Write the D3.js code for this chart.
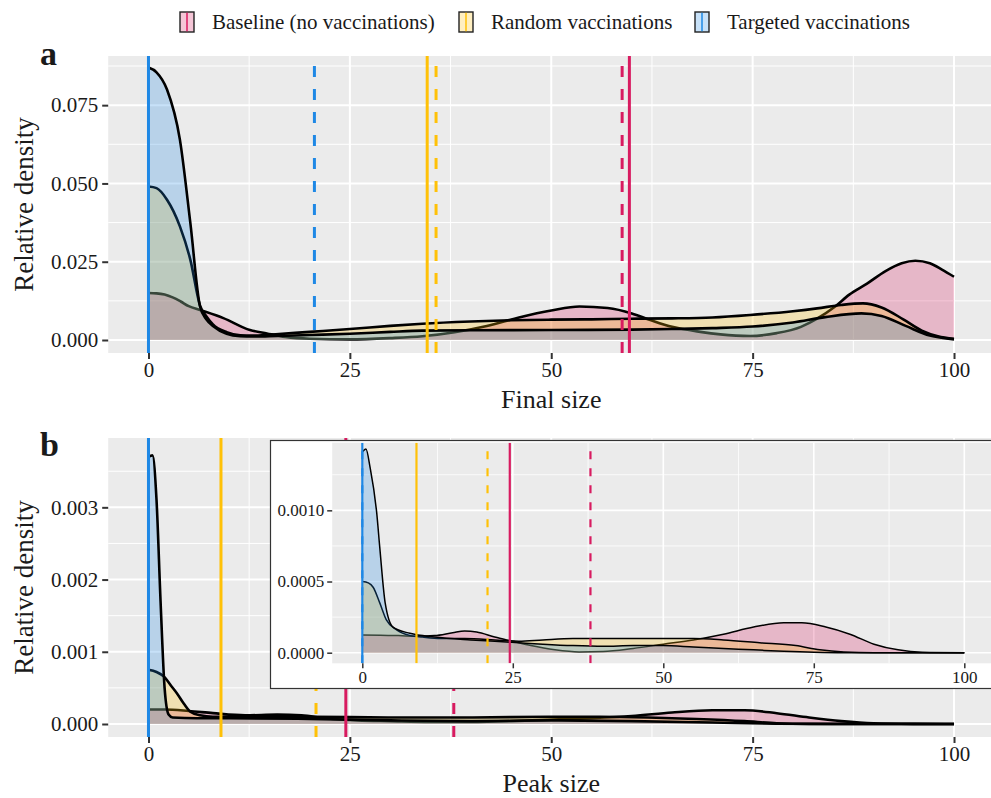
<!DOCTYPE html>
<html>
<head>
<meta charset="utf-8">
<script src="https://cdn.jsdelivr.net/npm/d3@7"></script>
<style>
  body { margin: 0; background: #fff; }
  text { font-family: "Liberation Serif", "Times New Roman", serif; fill: #1a1a1a; }
</style>
</head>
<body>
<svg id="chart" width="991" height="798"></svg>
<script>
// ---- data ----
const groups = ['Baseline (no vaccinations)', 'Random vaccinations', 'Targeted vaccinations'];
const groupColors = ['#D81B60', '#FFC107', '#1E88E5'];

const xTicks = [0, 25, 50, 75, 100];
const xMinor = [12.5, 37.5, 62.5, 87.5];

const finalTicksY = [0, 0.025, 0.05, 0.075];
const finalMinorY = [0.0125, 0.0375, 0.0625, 0.0875];
const peakTicksY = [0, 0.001, 0.002, 0.003];
const peakMinorY = [0.0005, 0.0015, 0.0025, 0.0035];
const insetTicksY = [0, 0.0005, 0.001];
const insetMinorY = [0.00025, 0.00075, 0.00125];

// panel a: final size densities [x, density]
const finalBaseline = [[0,0.015],[1,0.0149],[2,0.0145],[3,0.0136],[4,0.0123],[5,0.0108],[6.4,0.0096],[9.3,0.007],[12.6,0.0032],[14.7,0.0021],[17,0.001],[20,0.0004],[25,0.0002],[30,0.0006],[34,0.0012],[38,0.0025],[42,0.0045],[46,0.0072],[50,0.0094],[53.5,0.0107],[57,0.0102],[60,0.0085],[62.3,0.0064],[65,0.0042],[68.5,0.0026],[71,0.0018],[74.7,0.0013],[78,0.0022],[81,0.0042],[83,0.0068],[85.2,0.0106],[87,0.0145],[89.2,0.018],[91.5,0.022],[93.5,0.0245],[95.2,0.0253],[97,0.0245],[98.5,0.0225],[100,0.0202]];
const finalRandom = [[0,0.049],[1,0.0485],[2.3,0.0448],[3.9,0.0363],[5.2,0.0256],[6.4,0.011],[7.2,0.0075],[8,0.005],[9.7,0.0025],[11.4,0.0015],[13,0.0014],[15,0.0017],[20,0.0026],[25,0.0035],[30,0.0045],[34,0.0052],[40,0.0059],[45,0.0063],[50,0.0065],[55,0.0066],[60,0.0068],[65,0.0069],[70,0.0072],[74.7,0.008],[80,0.0092],[83,0.0101],[86,0.0112],[88.7,0.0117],[91,0.0104],[93.7,0.0066],[96,0.003],[98,0.0012],[100,0.0004]];
const finalTargeted = [[0,0.087],[1,0.0855],[2.3,0.08],[3.9,0.064],[5.2,0.0373],[6.4,0.0107],[7.2,0.0065],[8,0.0045],[9.7,0.002],[11.4,0.0012],[13,0.0011],[15,0.0012],[20,0.0016],[25,0.002],[30,0.0026],[34,0.003],[40,0.0031],[50,0.0032],[60,0.0033],[65,0.0035],[70,0.0038],[75,0.0043],[80,0.0056],[84,0.0073],[88.5,0.0085],[91,0.0077],[94,0.0045],[97,0.0014],[100,0.0002]];
const finalSolid = [59.7, 34.6, 0];
const finalDashed = [58.8, 35.7, 20.6];

// panel b: peak size densities
const peakBaseline = [[0,0.0002],[2,0.0002],[5,0.00018],[8,0.00015],[12,0.00012],[16,0.00013],[19,0.00012],[22,0.00008],[26,0.00005],[30,0.00004],[35,0.00003],[40,0.00003],[45,0.00004],[50,0.00006],[55,0.00008],[60,0.00011],[65,0.00016],[70,0.00019],[74,0.00019],[78,0.00015],[82,0.00009],[86,0.00004],[90,0.00001],[95,0.000002],[100,0]];
const peakRandom = [[0,0.00075],[1,0.00072],[1.9,0.00066],[2.8,0.00053],[3.5,0.00043],[4.4,0.00028],[5.2,0.00017],[6.4,0.00012],[8,0.0001],[12,0.0001],[20,0.0001],[30,0.00009],[40,0.00009],[50,0.0001],[56,0.0001],[62,0.00009],[68,0.00007],[74,0.00004],[78,0.00001],[82,0.000002],[100,0]];
const peakTargeted = [[0,0.0037],[0.5,0.00372],[1,0.0031],[1.5,0.0017],[2,0.0005],[2.5,0.00013],[3,0.00009],[6,0.00008],[10,0.00008],[20,0.00007],[30,0.00005],[40,0.00004],[50,0.00005],[60,0.00004],[70,0.00002],[78,0.000004],[85,0],[100,0]];
const peakSolid = [24.5, 9.0, 0];
const peakDashed = [37.9, 20.8, 0];

// panel b inset: zoomed peak size densities
const insetBaseline = [[0,0.000125],[3,0.000122],[6,0.00012],[9,0.000115],[12,0.00012],[15,0.00014],[17,0.000152],[19,0.000145],[22,0.00011],[25,0.00008],[28,0.00005],[32,0.00002],[36,0.000005],[40,0.000008],[45,0.00003],[50,0.00006],[55,0.00009],[60,0.00013],[65,0.00018],[70,0.00021],[73,0.00021],[77,0.00018],[81,0.00013],[85,0.00006],[89,0.00002],[93,0.000003],[100,0]];
const insetRandom = [[0,0.0005],[1,0.00049],[1.8,0.00046],[2.9,0.00035],[4,0.00023],[5.7,0.00016],[8,0.00012],[10,0.00011],[13,0.0001],[17,0.0001],[22,0.00009],[26,0.00008],[30,0.00009],[35,0.0001],[40,0.0001],[47,0.0001],[55,0.0001],[60,0.00009],[66,0.00007],[72,0.00005],[76,0.00002],[80,0.000005],[85,0],[100,0]];
const insetTargeted = [[0,0.00141],[0.6,0.00143],[1.3,0.0013],[2.4,0.00098],[2.9,0.00074],[3.8,0.00035],[5.1,0.00018],[7.9,0.000136],[12,0.00011],[18,0.00009],[22,0.00008],[26,0.00007],[30,0.00006],[35,0.00005],[40,0.000045],[45,0.00005],[50,0.00005],[55,0.00004],[60,0.00003],[65,0.00002],[70,0.00001],[75,0.000003],[80,0],[100,0]];

const svg = d3.select('#chart');
const defs = svg.append('defs');

function drawPanel(o) {
  const g = svg.append('g');
  const [xl, xr] = o.x.range();
  const [yb, yt] = o.y.range();

  g.append('rect')
    .attr('x', xl).attr('y', yt)
    .attr('width', xr - xl).attr('height', yb - yt)
    .attr('fill', '#EBEBEB');

  // grid lines
  g.selectAll('.gy-minor').data(o.yMinor).join('line')
    .attr('x1', xl).attr('x2', xr)
    .attr('y1', d => o.y(d)).attr('y2', d => o.y(d))
    .attr('stroke', '#fff').attr('stroke-width', o.gridW / 2);
  g.selectAll('.gx-minor').data(xMinor).join('line')
    .attr('y1', yb).attr('y2', yt)
    .attr('x1', d => o.x(d)).attr('x2', d => o.x(d))
    .attr('stroke', '#fff').attr('stroke-width', o.gridW / 2);
  g.selectAll('.gy-major').data(o.yTicks).join('line')
    .attr('x1', xl).attr('x2', xr)
    .attr('y1', d => o.y(d)).attr('y2', d => o.y(d))
    .attr('stroke', '#fff').attr('stroke-width', o.gridW);
  g.selectAll('.gx-major').data(xTicks).join('line')
    .attr('y1', yb).attr('y2', yt)
    .attr('x1', d => o.x(d)).attr('x2', d => o.x(d))
    .attr('stroke', '#fff').attr('stroke-width', o.gridW);

  // clip for the data layer
  defs.append('clipPath').attr('id', o.id)
    .append('rect')
    .attr('x', xl).attr('y', yt)
    .attr('width', xr - xl).attr('height', yb - yt);
  const data = g.append('g').attr('clip-path', `url(#${o.id})`);

  const area = d3.area()
    .x(d => o.x(d[0])).y0(o.y(0)).y1(d => o.y(d[1]))
    .curve(d3.curveMonotoneX);
  const line = d3.line()
    .x(d => o.x(d[0])).y(d => o.y(d[1]))
    .curve(d3.curveMonotoneX);

  // densities are drawn group by group, fill then outline
  o.series.forEach((s, i) => {
    data.append('path').attr('d', area(s))
      .attr('fill', groupColors[i]).attr('fill-opacity', 0.25);
    data.append('path').attr('d', line(s))
      .attr('fill', 'none').attr('stroke', '#000')
      .attr('stroke-width', o.outlineW).attr('stroke-linejoin', 'round');
  });

  // reference lines, drawn from the bottom upwards
  o.solid.forEach((v, i) => {
    data.append('line')
      .attr('x1', o.x(v)).attr('x2', o.x(v)).attr('y1', yb).attr('y2', yt)
      .attr('stroke', groupColors[i]).attr('stroke-width', o.vlineW);
  });
  o.dashed.forEach((v, i) => {
    data.append('line')
      .attr('x1', o.x(v)).attr('x2', o.x(v)).attr('y1', yb).attr('y2', yt)
      .attr('stroke', groupColors[i]).attr('stroke-width', o.vlineW)
      .attr('stroke-dasharray', o.dash);
  });

  // axes
  const yAxis = g.append('g')
    .attr('transform', `translate(${xl},0)`)
    .call(d3.axisLeft(o.y).tickValues(o.yTicks).tickFormat(o.yFormat)
      .tickSize(o.tickLen).tickPadding(o.tickPad));
  const xAxis = g.append('g')
    .attr('transform', `translate(0,${yb})`)
    .call(d3.axisBottom(o.x).tickValues(xTicks).tickFormat(d3.format('d'))
      .tickSize(o.tickLen).tickPadding(o.xTickPad));
  [yAxis, xAxis].forEach(ax => {
    ax.select('.domain').remove();
    ax.selectAll('.tick line').attr('stroke', '#333').attr('stroke-width', o.tickW);
    ax.selectAll('.tick text')
      .attr('fill', '#1a1a1a')
      .style('font-size', o.tickFont + 'px')
      .style('font-family', '"Liberation Serif", serif');
  });
  return g;
}

// ---- legend ----
const legendKeys = [180, 459, 695];
const legend = svg.append('g');
groups.forEach((name, i) => {
  const kx = legendKeys[i];
  legend.append('rect')
    .attr('x', kx).attr('y', 12).attr('width', 14).attr('height', 20)
    .attr('fill', groupColors[i]).attr('fill-opacity', 0.25)
    .attr('stroke', '#222').attr('stroke-width', 1.4);
  legend.append('line')
    .attr('x1', kx + 7).attr('x2', kx + 7).attr('y1', 12.7).attr('y2', 31.3)
    .attr('stroke', groupColors[i]).attr('stroke-width', 1.5);
  legend.append('text')
    .attr('x', kx + 32).attr('y', 29)
    .style('font-size', '21px')
    .text(name);
});

// ---- panel a ----
const xa = d3.scaleLinear().domain([-5, 105]).range([108.2, 994.3]);
const ya = d3.scaleLinear().domain([-0.00415, 0.0907]).range([353, 56]);
drawPanel({
  id: 'clip-a', x: xa, y: ya,
  yTicks: finalTicksY, yMinor: finalMinorY, yFormat: d3.format('.3f'),
  series: [finalBaseline, finalRandom, finalTargeted],
  solid: finalSolid, dashed: finalDashed,
  gridW: 2, outlineW: 2.6, vlineW: 3, dash: '11,12',
  tickLen: 6, tickW: 2, tickPad: 4, xTickPad: 3, tickFont: 21
});

// ---- panel b ----
const xb = d3.scaleLinear().domain([-5, 105]).range([108.2, 994.3]);
const yb = d3.scaleLinear().domain([-0.00018, 0.00396]).range([737, 438]);
drawPanel({
  id: 'clip-b', x: xb, y: yb,
  yTicks: peakTicksY, yMinor: peakMinorY, yFormat: d3.format('.3f'),
  series: [peakBaseline, peakRandom, peakTargeted],
  solid: peakSolid, dashed: peakDashed,
  gridW: 2, outlineW: 2.6, vlineW: 3, dash: '11,12',
  tickLen: 6, tickW: 2, tickPad: 4, xTickPad: 3, tickFont: 21
});

// ---- inset ----
svg.append('rect')
  .attr('x', 270.5).attr('y', 440.5).attr('width', 740).attr('height', 248)
  .attr('fill', '#fff').attr('stroke', '#333').attr('stroke-width', 1.2);
const xi = d3.scaleLinear().domain([-5, 105]).range([332.2, 994.4]);
const yi = d3.scaleLinear().domain([-0.0000744, 0.001475]).range([663.3, 442.7]);
drawPanel({
  id: 'clip-i', x: xi, y: yi,
  yTicks: insetTicksY, yMinor: insetMinorY, yFormat: d3.format('.4f'),
  series: [insetBaseline, insetRandom, insetTargeted],
  solid: peakSolid, dashed: peakDashed,
  gridW: 1.6, outlineW: 1.5, vlineW: 2.2, dash: '8,9',
  tickLen: 5, tickW: 1.5, tickPad: 3, xTickPad: 3, tickFont: 17
});

// ---- titles ----
svg.append('text').attr('x', 40).attr('y', 65)
  .style('font-size', '34px').style('font-weight', 'bold').text('a');
svg.append('text').attr('x', 40).attr('y', 456)
  .style('font-size', '34px').style('font-weight', 'bold').text('b');

svg.append('text').attr('x', xa(50)).attr('y', 408)
  .attr('text-anchor', 'middle').style('font-size', '26px').text('Final size');
svg.append('text').attr('x', xb(50)).attr('y', 792)
  .attr('text-anchor', 'middle').style('font-size', '26px').text('Peak size');

[[204.5], [587.5]].forEach(([cy]) => {
  svg.append('text')
    .attr('transform', `translate(33,${cy}) rotate(-90)`)
    .attr('text-anchor', 'middle').style('font-size', '27px')
    .text('Relative density');
});
</script>
</body>
</html>
